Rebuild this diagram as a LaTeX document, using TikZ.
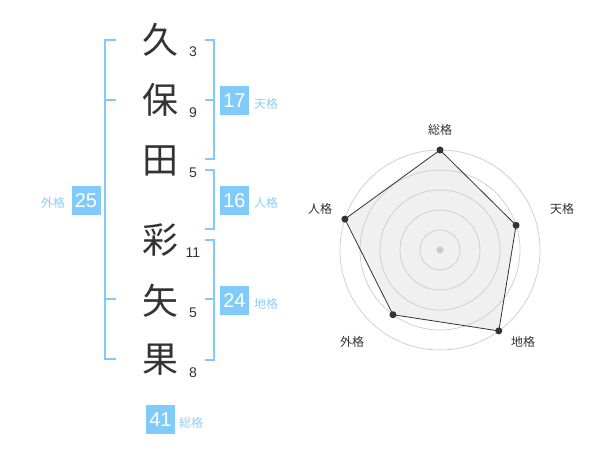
\documentclass[tikz,border=0pt]{standalone}
\usepackage{fontspec}
\setmainfont{Liberation Sans}
\newfontfamily\jp{Noto Sans CJK JP}
\definecolor{bl}{HTML}{80CBFA}
\definecolor{blt}{HTML}{8CCFF5}
\definecolor{ink}{HTML}{333333}
\definecolor{ring}{HTML}{CCCCCC}
\definecolor{area}{HTML}{F0F0F0}
\begin{document}
\begin{tikzpicture}[x=1pt,y=-1pt,
  kanji/.style={font=\jp\fontsize{36}{36}\selectfont, text=ink, inner sep=0pt},
  strk/.style={font=\fontsize{14}{14}\selectfont, text=ink, inner sep=0pt},
  valbox/.style={fill=bl, text=white, minimum width=29pt, minimum height=29pt, inner sep=0pt, font=\fontsize{20}{20}\selectfont},
  lab/.style={font=\jp\fontsize{12}{12}\selectfont, text=blt, inner sep=0pt},
  brk/.style={draw=bl, line width=1.8pt},
  rlab/.style={font=\jp\fontsize{12}{12}\selectfont, text=ink, inner sep=0pt},
  ringc/.style={draw=ring, line width=0.7pt},
  dot/.style={circle, fill=ink, inner sep=0pt, minimum size=7pt}]
\useasboundingbox (0,0) rectangle (600,470);
\fill[white] (0,0) rectangle (600,470);

% name characters
\node[kanji] (k1) at (160,40) {久};
\node[kanji] (k2) at (160,100) {保};
\node[kanji] (k3) at (160,161) {田};
\node[kanji] (k4) at (160,240) {彩};
\node[kanji] (k5) at (160,301) {矢};
\node[kanji] (k6) at (160,360) {果};

% stroke counts
\node[strk] (n1) at (193,52) {3};
\node[strk] (n2) at (193,113) {9};
\node[strk] (n3) at (193,173) {5};
\node[strk] (n4) at (193,253) {11};
\node[strk] (n5) at (193,313) {5};
\node[strk] (n6) at (193,373) {8};

% brackets
\draw[brk] (116,40) -- (105,40) -- (105,359) -- (116,359);
\draw[brk] (105,100) -- (116,100);
\draw[brk] (105,299) -- (116,299);

\draw[brk] (205,40) -- (214,40) -- (214,159) -- (205,159);
\draw[brk] (205,100) -- (214,100);

\draw[brk] (205,170) -- (214,170) -- (214,229) -- (205,229);

\draw[brk] (205,240) -- (214,240) -- (214,360) -- (205,360);
\draw[brk] (205,299) -- (214,299);

% value boxes
\node[valbox] (ten) at (234.5,100.5) {17};
\node[lab] (tenl) at (266,104) {天格};
\node[valbox] (jin) at (234.5,200.5) {16};
\node[lab] (jinl) at (266,203) {人格};
\node[valbox] (chi) at (234.5,300.5) {24};
\node[lab] (chil) at (266,304) {地格};
\node[valbox] (gai) at (86,200.5) {25};
\node[lab] (gail) at (53,203) {外格};
\node[valbox] (sou) at (160.5,419.5) {41};
\node[lab] (soul) at (191,423) {総格};

% radar chart
\begin{scope}[shift={(440,250)}, yscale=-1]
  \coordinate (ps) at (90:100);
  \coordinate (pt) at (18:80);
  \coordinate (pc) at (-54:100);
  \coordinate (pg) at (-126:80);
  \coordinate (pj) at (162:100);
  \fill[area] (ps) -- (pt) -- (pc) -- (pg) -- (pj) -- cycle;
  \foreach \r in {20,40,60,80,100} \draw[ringc] (0,0) circle (\r);
  \draw[draw=ink, line width=0.8pt, line join=round] (ps) -- (pt) -- (pc) -- (pg) -- (pj) -- cycle;
  \node[circle, fill=ring, inner sep=0pt, minimum size=7pt] (ctr) at (0,0) {};
  \node[dot] (ds) at (ps) {};
  \node[dot] (dt) at (pt) {};
  \node[dot] (dc) at (pc) {};
  \node[dot] (dg) at (pg) {};
  \node[dot] (dj) at (pj) {};
\end{scope}
\node[rlab] (rs) at (440,130) {総格};
\node[rlab] (rt) at (562,209) {天格};
\node[rlab] (rc) at (523,342) {地格};
\node[rlab] (rg) at (352,342) {外格};
\node[rlab] (rj) at (320,209) {人格};
\end{tikzpicture}
\end{document}
